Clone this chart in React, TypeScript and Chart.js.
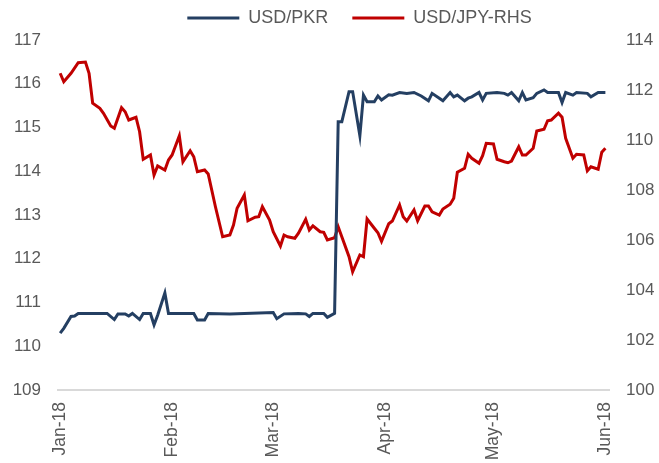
import React, { useEffect, useRef } from "react";
import { Chart, registerables } from "chart.js";

Chart.register(...registerables);

// Days since 1 Jan 2018
const monthStartDays = [0, 31, 59, 90, 120, 151];
const monthLabels = ["Jan-18", "Feb-18", "Mar-18", "Apr-18", "May-18", "Jun-18"];

const pkrDays = [
  0, 1, 3, 4, 5, 13, 15, 16, 18, 19, 20, 22, 23, 25, 26, 27, 29, 30, 37, 38, 40, 41, 47, 59,
  60, 62, 66, 68, 69, 70, 73, 74, 76, 77, 78, 80, 81, 83, 84, 85, 87, 88, 89, 91, 92, 94, 96,
  98, 100, 102, 103, 105, 106, 108, 109, 110, 112, 113, 114, 116, 117, 118, 121, 123, 124, 125,
  127, 128, 129, 131, 132, 134, 135, 138, 139, 140, 142, 143, 146, 147, 149, 151,
];
const pkrValues = [
  110.3, 110.41, 110.68, 110.69, 110.75, 110.75, 110.61, 110.74, 110.74, 110.69, 110.75, 110.61,
  110.75, 110.75, 110.49, 110.71, 111.22, 110.75, 110.75, 110.6, 110.6, 110.75, 110.74, 110.77,
  110.63, 110.74, 110.75, 110.74, 110.68, 110.75, 110.75, 110.66, 110.75, 115.13, 115.13, 115.82,
  115.82, 114.81, 115.74, 115.59, 115.59, 115.72, 115.63, 115.75, 115.74, 115.8, 115.78, 115.8,
  115.72, 115.61, 115.78, 115.67, 115.61, 115.8, 115.7, 115.74, 115.61, 115.67, 115.7, 115.8,
  115.63, 115.78, 115.8, 115.78, 115.74, 115.8, 115.61, 115.8, 115.63, 115.68, 115.78, 115.86,
  115.8, 115.8, 115.57, 115.8, 115.74, 115.8, 115.78, 115.7, 115.8, 115.8,
];

const jpyDays = [
  0, 1, 3, 5, 7, 8, 9, 11, 12, 14, 15, 17, 18, 19, 21, 22, 23, 25, 26, 27, 29, 30, 31, 33, 34,
  36, 37, 38, 40, 41, 43, 45, 47, 48, 49, 51, 52, 54, 55, 56, 58, 59, 61, 62, 63, 65, 66, 68,
  69, 70, 72, 73, 74, 76, 77, 78, 80, 81, 83, 84, 85, 87, 88, 89, 91, 92, 94, 95, 96, 98, 99,
  101, 102, 103, 105, 106, 108, 109, 110, 112, 113, 114, 116, 117, 118, 120, 121, 123, 124, 125,
  127, 128, 129, 131, 132, 134, 135, 136, 138, 139, 140, 142, 143, 145, 146, 147, 149, 150, 151,
];
const jpyValues = [
  112.67, 112.33, 112.67, 113.09, 113.12, 112.67, 111.47, 111.27, 111.07, 110.56, 110.47, 111.29,
  111.13, 110.8, 110.91, 110.33, 109.23, 109.4, 108.6, 108.96, 108.8, 109.2, 109.4, 110.17,
  109.13, 109.57, 109.33, 108.73, 108.8, 108.64, 107.33, 106.13, 106.2, 106.6, 107.27, 107.8,
  106.77, 106.91, 106.93, 107.33, 106.8, 106.33, 105.76, 106.2, 106.13, 106.07, 106.27, 106.83,
  106.4, 106.57, 106.33, 106.31, 106.0, 106.09, 106.53, 106.13, 105.33, 104.73, 105.4, 105.33,
  106.84, 106.47, 106.29, 105.95, 106.65, 106.76, 107.4, 106.93, 106.76, 107.2, 106.77, 107.36,
  107.36, 107.13, 107.0, 107.24, 107.43, 107.67, 108.71, 108.87, 109.43, 109.27, 109.07, 109.37,
  109.87, 109.84, 109.23, 109.13, 109.09, 109.16, 109.73, 109.4, 109.4, 109.67, 110.36, 110.43,
  110.77, 110.8, 111.07, 110.91, 110.07, 109.27, 109.43, 109.4, 108.77, 108.93, 108.83, 109.51,
  109.67,
];

const BLUE = "#243F62";
const RED = "#C00000";
const TEXT = "#595959";
const FONT = "'Liberation Sans', Arial, sans-serif";

const LEGEND_DX = 30;
const LEGEND_DY = -3;

const legendShift = {
  id: "legendShift",
  afterLayout(chart: any) {
    const lg = chart.legend;
    if (!lg) return;
    lg.left += LEGEND_DX;
    lg.right += LEGEND_DX;
    lg.top += LEGEND_DY;
    lg.bottom += LEGEND_DY;
  },
};

export default function App() {
  const ref = useRef<HTMLCanvasElement | null>(null);

  useEffect(() => {
    if (!ref.current) return;
    const chart = new Chart(ref.current, {
      type: "line",
      data: {
        datasets: [
          {
            label: "USD/PKR",
            data: pkrDays.map((d, i) => ({ x: d, y: pkrValues[i] })),
            borderColor: BLUE,
            backgroundColor: BLUE,
            borderWidth: 3,
            pointRadius: 0,
            tension: 0,
            yAxisID: "y",
          },
          {
            label: "USD/JPY-RHS",
            data: jpyDays.map((d, i) => ({ x: d, y: jpyValues[i] })),
            borderColor: RED,
            backgroundColor: RED,
            borderWidth: 3,
            pointRadius: 0,
            tension: 0,
            yAxisID: "y1",
          },
        ],
      },
      options: {
        responsive: false,
        animation: false,
        layout: { padding: { top: -12, left: 0, right: 0, bottom: 0 } },
        plugins: {
          tooltip: { enabled: false },
          legend: {
            position: "top",
            labels: {
              usePointStyle: true,
              pointStyle: "line",
              pointStyleWidth: 52,
              padding: 24,
              color: TEXT,
              font: { family: FONT, size: 18 },
            },
          },
        },
        scales: {
          x: {
            type: "linear",
            min: -0.6,
            max: 152,
            grid: { display: false, drawTicks: false },
            border: { display: true, color: "#D9D9D9", width: 2 },
            afterBuildTicks: (scale: any) => {
              scale.ticks = monthStartDays.map((v) => ({ value: v }));
            },
            afterFit: (scale: any) => {
              scale.height = 73;
            },
            ticks: {
              autoSkip: false,
              maxRotation: 90,
              minRotation: 90,
              padding: 12,
              color: TEXT,
              font: { family: FONT, size: 17.5 },
              callback: (_v: any, i: number) => monthLabels[i],
            },
          },
          y: {
            position: "left",
            min: 109,
            max: 117,
            grid: { display: false, drawTicks: false },
            border: { display: false },
            afterFit: (scale: any) => {
              scale.width = 58;
            },
            ticks: {
              stepSize: 1,
              padding: 17,
              color: TEXT,
              font: { family: FONT, size: 17 },
            },
          },
          y1: {
            position: "right",
            min: 100,
            max: 114,
            grid: { display: false, drawTicks: false },
            border: { display: false },
            afterFit: (scale: any) => {
              scale.width = 50;
            },
            ticks: {
              stepSize: 2,
              padding: 17,
              color: TEXT,
              font: { family: FONT, size: 17 },
            },
          },
        },
      },
      plugins: [legendShift],
    });
    return () => chart.destroy();
  }, []);

  return (
    <div style={{ position: "absolute", left: 0, top: 0, width: 659, height: 463, background: "#fff" }}>
      <canvas ref={ref} width={659} height={463} style={{ width: 659, height: 463 }} />
    </div>
  );
}
